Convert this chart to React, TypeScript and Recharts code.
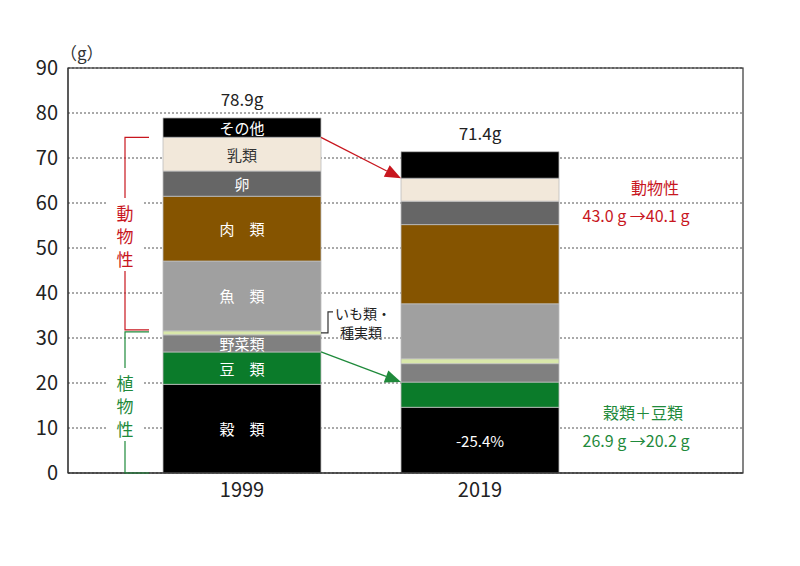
import React from 'react';
import { BarChart, Bar, XAxis, YAxis, CartesianGrid, LabelList } from 'recharts';

// values (g / day)
const years = ['1999', '2019'];
const grains = [19.7, 14.6];
const beans = [7.2, 5.6];
const vegetables = [3.8, 4.1];
const tubers = [0.9, 1.1];
const fish = [15.5, 12.2];
const meat = [14.4, 17.6];
const eggs = [5.6, 5.2];
const milk = [7.5, 5.1];
const others = [4.3, 5.9];
const totalLabels = ['78.9g', '71.4g'];
const yTicks = [0, 10, 20, 30, 40, 50, 60, 70, 80, 90];

const series = [
  { key: 'grains', values: grains, color: '#000000', text: '#ffffff', labels: ['穀　類', '-25.4%'] },
  { key: 'beans', values: beans, color: '#0b7b2a', text: '#ffffff', labels: ['豆　類', ''] },
  { key: 'vegetables', values: vegetables, color: '#808080', text: '#ffffff', labels: ['野菜類', ''] },
  { key: 'tubers', values: tubers, color: '#d9e8aa', text: '#333333', labels: ['', ''] },
  { key: 'fish', values: fish, color: '#a0a0a0', text: '#ffffff', labels: ['魚　類', ''] },
  { key: 'meat', values: meat, color: '#855400', text: '#ffffff', labels: ['肉　類', ''] },
  { key: 'eggs', values: eggs, color: '#666666', text: '#ffffff', labels: ['卵', ''] },
  { key: 'milk', values: milk, color: '#f2e8da', text: '#333333', labels: ['乳類', ''] },
  { key: 'others', values: others, color: '#000000', text: '#ffffff', labels: ['その他', ''] },
];

const data = years.map((year, i) => {
  const row: any = { year };
  series.forEach((s) => (row[s.key] = s.values[i]));
  return row;
});

// layout
const W = 800;
const H = 566;
const M = { top: 68, right: 57, bottom: 63, left: 8 };
const Y_AXIS_W = 60;
const X_AXIS_H = 30;
const PAD_L = 55;
const PAD_R = 144;
const BAR = 158;
const Y_MAX = 90;
const PLOT_L = M.left + Y_AXIS_W;
const PLOT_T = M.top;
const PLOT_R = W - M.right;
const PLOT_B = H - M.bottom - X_AXIS_H;

const band = (PLOT_R - PLOT_L - PAD_L - PAD_R) / years.length;
const centerOf = (i: number) => PLOT_L + PAD_L + band * (i + 0.5);
const yOf = (v: number) => PLOT_T + (PLOT_B - PLOT_T) * (1 - v / Y_MAX);
const cum = (i: number, upto: number) => series.slice(0, upto).reduce((a, s) => a + s.values[i], 0);

const RED = '#c8161e';
const GREEN = '#1f8a3b';
const FONT = "'Noto Sans CJK JP', 'Noto Sans', sans-serif";

const Arrow = ({ x1, y1, x2, y2, color }: any) => {
  const dx = x2 - x1;
  const dy = y2 - y1;
  const len = Math.sqrt(dx * dx + dy * dy);
  const ux = dx / len;
  const uy = dy / len;
  const hl = 16;
  const hw = 6.5;
  const bx = x2 - ux * hl;
  const by = y2 - uy * hl;
  return (
    <g>
      <line x1={x1} y1={y1} x2={bx} y2={by} stroke={color} strokeWidth={1.3} />
      <polygon
        points={`${x2},${y2} ${bx - uy * hw},${by + ux * hw} ${bx + uy * hw},${by - ux * hw}`}
        fill={color}
      />
    </g>
  );
};

const VText = ({ x, y, chars, color }: any) => (
  <g>
    <rect x={x - 17} y={y - 14} width={34} height={chars.length * 23 + 4} fill="#fff" />
    {chars.map((c: string, k: number) => (
      <text key={k} x={x} y={y + k * 23} textAnchor="middle" dominantBaseline="central" fill={color} fontSize={17}>
        {c}
      </text>
    ))}
  </g>
);

const Annotations = () => {
  const right0 = centerOf(0) + BAR / 2;
  const left1 = centerOf(1) - BAR / 2;
  const animalTop = [cum(0, 8), cum(1, 8)];
  const animalBottom = cum(0, 4);
  const plantTop = [cum(0, 2), cum(1, 2)];
  const tuberY = yOf((cum(0, 3) + cum(0, 4)) / 2);
  const bx = 125;
  const tx = 149;
  return (
    <svg width={W} height={H} style={{ position: 'absolute', left: 0, top: 0, pointerEvents: 'none' }} fontFamily={FONT}>
      <rect x={PLOT_L} y={PLOT_T} width={PLOT_R - PLOT_L} height={PLOT_B - PLOT_T} fill="none" stroke="#333" strokeWidth={1.2} />
      <text x={60} y={52} fontSize={17} fill="#333" dominantBaseline="central">（g）</text>

      {/* animal bracket */}
      <polyline
        points={`${tx},${yOf(animalTop[0])} ${bx},${yOf(animalTop[0])} ${bx},${yOf(animalBottom) - 1} ${tx},${yOf(animalBottom) - 1}`}
        fill="none" stroke={RED} strokeWidth={1.2}
      />
      <VText x={bx} y={212} chars={['動', '物', '性']} color={RED} />

      {/* plant bracket */}
      <polyline
        points={`${tx},${yOf(animalBottom) + 1} ${bx},${yOf(animalBottom) + 1} ${bx},${PLOT_B} ${tx},${PLOT_B}`}
        fill="none" stroke={GREEN} strokeWidth={1.2}
      />
      <VText x={bx} y={382} chars={['植', '物', '性']} color={GREEN} />

      {/* tubers callout */}
      <polyline
        points={`${right0},${tuberY} ${right0 + 7},${tuberY} ${right0 + 7},${tuberY - 21} ${right0 + 12},${tuberY - 21}`}
        fill="none" stroke="#333" strokeWidth={1.2}
      />
      <text x={right0 + 14} y={tuberY - 20} fontSize={14} fill="#222" dominantBaseline="central">いも類・</text>
      <text x={right0 + 19} y={tuberY - 1} fontSize={14} fill="#222" dominantBaseline="central">種実類</text>

      <Arrow x1={right0} y1={yOf(animalTop[0])} x2={left1} y2={yOf(animalTop[1])} color={RED} />
      <Arrow x1={right0} y1={yOf(plantTop[0])} x2={left1} y2={yOf(plantTop[1])} color={GREEN} />

      <text x={655} y={187} textAnchor="middle" dominantBaseline="central" fontSize={16} fill={RED}>動物性</text>
      <text x={636} y={215} textAnchor="middle" dominantBaseline="central" fontSize={16} fill={RED}>43.0 g →40.1 g</text>
      <text x={643} y={412} textAnchor="middle" dominantBaseline="central" fontSize={16} fill={GREEN}>穀類＋豆類</text>
      <text x={636} y={440} textAnchor="middle" dominantBaseline="central" fontSize={16} fill={GREEN}>26.9 g →20.2 g</text>
    </svg>
  );
};

export default function App() {
  return (
    <div style={{ position: 'absolute', left: 0, top: 0, width: W, height: H, background: '#fff', fontFamily: FONT }}>
      <BarChart width={W} height={H} data={data} margin={M}>
        <CartesianGrid horizontal vertical={false} stroke="#555" strokeDasharray="2 2" />
        <XAxis
          dataKey="year"
          height={X_AXIS_H}
          padding={{ left: PAD_L, right: PAD_R }}
          tickLine={false}
          axisLine={{ stroke: '#333' }}
          tick={{ fontSize: 20, fill: '#222' }}
          tickMargin={4}
        />
        <YAxis
          width={Y_AXIS_W}
          domain={[0, Y_MAX]}
          ticks={yTicks}
          interval={0}
          tickLine={false}
          axisLine={{ stroke: '#333' }}
          tick={{ fontSize: 20, fill: '#222' }}
          tickMargin={4}
        />
        {series.map((s) => (
          <Bar
            key={s.key}
            dataKey={s.key}
            stackId="a"
            fill={s.color}
            stroke="#bdbdbd"
            strokeWidth={0.8}
            barSize={BAR}
            isAnimationActive={false}
          >
            <LabelList
              dataKey={s.key}
              content={(p: any) => {
                const t = s.labels[p.index];
                if (!t) return null;
                return (
                  <text
                    x={p.x + p.width / 2}
                    y={p.y + p.height / 2}
                    textAnchor="middle"
                    dominantBaseline="central"
                    fill={s.text}
                    fontSize={15}
                  >
                    {t}
                  </text>
                );
              }}
            />
            {s.key === 'others' && (
              <LabelList
                dataKey={s.key}
                content={(p: any) => (
                  <text x={p.x + p.width / 2} y={p.y - 19} textAnchor="middle" dominantBaseline="central" fill="#222" fontSize={17}>
                    {totalLabels[p.index]}
                  </text>
                )}
              />
            )}
          </Bar>
        ))}
      </BarChart>
      <Annotations />
    </div>
  );
}
